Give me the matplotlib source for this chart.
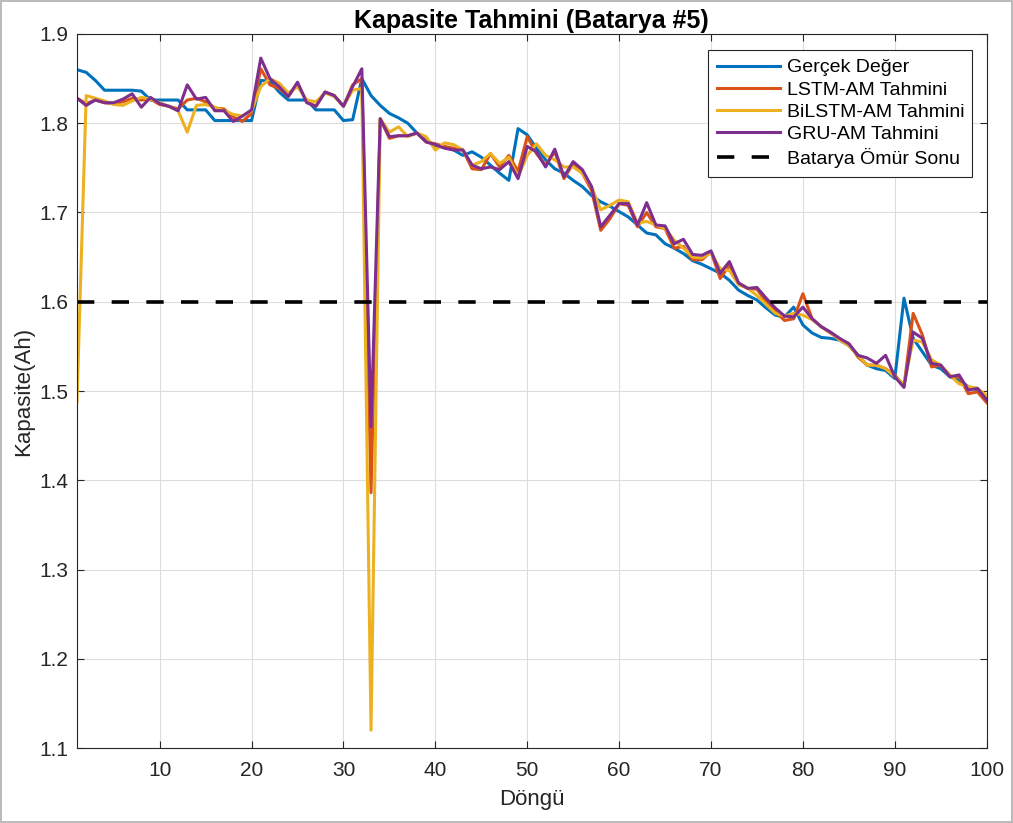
import matplotlib
matplotlib.use("Agg")
import matplotlib.pyplot as plt
import numpy as np

plt.rcParams['font.family'] = ['Liberation Sans', 'DejaVu Sans']

cycles = list(range(1, 101))

gercek = [1.860, 1.857, 1.848, 1.837, 1.837, 1.837, 1.837, 1.836, 1.826, 1.826,
          1.826, 1.826, 1.815, 1.815, 1.815, 1.803, 1.803, 1.803, 1.803, 1.803,
          1.848, 1.847, 1.835, 1.826, 1.826, 1.826, 1.815, 1.815, 1.815, 1.803,
          1.804, 1.850, 1.831, 1.820, 1.811, 1.806, 1.800, 1.789, 1.781, 1.775,
          1.773, 1.770, 1.764, 1.768, 1.762, 1.753, 1.744, 1.736, 1.794, 1.787,
          1.772, 1.759, 1.749, 1.744, 1.736, 1.729, 1.719, 1.712, 1.707, 1.701,
          1.695, 1.686, 1.677, 1.675, 1.665, 1.660, 1.654, 1.646, 1.642, 1.637,
          1.632, 1.624, 1.613, 1.607, 1.602, 1.593, 1.585, 1.583, 1.594, 1.574,
          1.565, 1.560, 1.559, 1.557, 1.551, 1.540, 1.529, 1.525, 1.523, 1.514,
          1.604, 1.559, 1.544, 1.529, 1.525, 1.516, 1.512, 1.505, 1.501, 1.492]

lstm = [1.828, 1.822, 1.826, 1.823, 1.822, 1.824, 1.828, 1.826, 1.827, 1.821,
        1.819, 1.816, 1.826, 1.828, 1.824, 1.817, 1.816, 1.807, 1.802, 1.811,
        1.861, 1.843, 1.839, 1.830, 1.845, 1.824, 1.819, 1.835, 1.831, 1.819,
        1.843, 1.850, 1.386, 1.805, 1.783, 1.786, 1.786, 1.789, 1.779, 1.777,
        1.774, 1.772, 1.770, 1.749, 1.748, 1.766, 1.751, 1.764, 1.746, 1.785,
        1.766, 1.753, 1.768, 1.738, 1.755, 1.744, 1.725, 1.680, 1.693, 1.710,
        1.708, 1.684, 1.700, 1.684, 1.682, 1.660, 1.662, 1.647, 1.647, 1.656,
        1.626, 1.641, 1.621, 1.615, 1.614, 1.600, 1.589, 1.579, 1.581, 1.609,
        1.581, 1.572, 1.565, 1.558, 1.553, 1.538, 1.529, 1.529, 1.525, 1.518,
        1.505, 1.587, 1.563, 1.527, 1.529, 1.516, 1.516, 1.497, 1.499, 1.487]

bilstm = [1.488, 1.831, 1.828, 1.825, 1.821, 1.820, 1.825, 1.829, 1.827, 1.823,
          1.819, 1.814, 1.790, 1.820, 1.821, 1.818, 1.814, 1.810, 1.808, 1.814,
          1.841, 1.850, 1.845, 1.834, 1.841, 1.826, 1.824, 1.834, 1.830, 1.819,
          1.837, 1.839, 1.120, 1.805, 1.790, 1.796, 1.785, 1.789, 1.785, 1.770,
          1.778, 1.776, 1.770, 1.753, 1.757, 1.766, 1.755, 1.762, 1.740, 1.764,
          1.777, 1.764, 1.759, 1.751, 1.751, 1.744, 1.729, 1.703, 1.708, 1.714,
          1.712, 1.688, 1.690, 1.686, 1.682, 1.669, 1.660, 1.650, 1.649, 1.655,
          1.637, 1.635, 1.619, 1.615, 1.607, 1.597, 1.587, 1.584, 1.587, 1.585,
          1.580, 1.572, 1.566, 1.557, 1.551, 1.540, 1.529, 1.529, 1.525, 1.516,
          1.508, 1.557, 1.555, 1.535, 1.529, 1.518, 1.508, 1.505, 1.503, 1.495]

gru = [1.828, 1.820, 1.826, 1.823, 1.823, 1.827, 1.833, 1.818, 1.829, 1.822,
       1.819, 1.814, 1.843, 1.827, 1.829, 1.814, 1.814, 1.802, 1.808, 1.815,
       1.873, 1.850, 1.841, 1.830, 1.846, 1.823, 1.819, 1.835, 1.831, 1.819,
       1.841, 1.861, 1.460, 1.805, 1.785, 1.786, 1.786, 1.789, 1.779, 1.776,
       1.772, 1.770, 1.770, 1.753, 1.749, 1.751, 1.748, 1.757, 1.738, 1.774,
       1.768, 1.751, 1.771, 1.740, 1.757, 1.748, 1.729, 1.684, 1.697, 1.710,
       1.710, 1.686, 1.711, 1.686, 1.685, 1.665, 1.670, 1.653, 1.652, 1.657,
       1.632, 1.645, 1.621, 1.615, 1.616, 1.604, 1.593, 1.584, 1.583, 1.594,
       1.581, 1.572, 1.566, 1.559, 1.553, 1.540, 1.537, 1.531, 1.540, 1.516,
       1.504, 1.566, 1.559, 1.531, 1.529, 1.516, 1.518, 1.501, 1.503, 1.490]

eol_value = 1.6
series_labels = ['Gerçek Değer', 'LSTM-AM Tahmini', 'BiLSTM-AM Tahmini', 'GRU-AM Tahmini']
eol_label = 'Batarya Ömür Sonu'
title = 'Kapasite Tahmini (Batarya #5)'
xlabel = 'Döngü'
ylabel = 'Kapasite(Ah)'
xticks = [10, 20, 30, 40, 50, 60, 70, 80, 90, 100]
yticks = [1.1, 1.2, 1.3, 1.4, 1.5, 1.6, 1.7, 1.8, 1.9]

colors = ['#0072BD', '#D95319', '#EDB120', '#7E2F8E']

fig = plt.figure(figsize=(10.13, 8.23), dpi=100)
fig.patch.set_edgecolor('#bbbbbb')
fig.patch.set_linewidth(1.5)
ax = fig.add_axes([0.076, 0.0911, 0.898, 0.8676])

for data, lab, c in zip([gercek, lstm, bilstm, gru], series_labels, colors):
    ax.plot(cycles, data, color=c, lw=2.2, label=lab)
ax.plot([cycles[0], cycles[-1]], [eol_value, eol_value], color='black', lw=2.6,
        linestyle=(0, (4.8, 4.8)), label=eol_label)

ax.set_xlim(1, 100)
ax.set_ylim(1.1, 1.9)
ax.set_xticks(xticks)
ax.set_yticks(yticks)
ax.set_yticklabels([f'{v:.1f}' for v in yticks])
ax.tick_params(direction='in', top=True, right=True, labelsize=15, length=5,
               width=0.8, colors='#262626')
ax.tick_params(axis='x', pad=9)
ax.tick_params(axis='y', pad=6)
ax.grid(True, color='#dcdcdc', lw=0.8)
ax.set_axisbelow(True)
for s in ax.spines.values():
    s.set_color('#262626')
    s.set_linewidth(0.8)

ax.set_title(title, fontsize=18, fontweight='bold', pad=4)
ax.set_xlabel(xlabel, fontsize=16, color='#262626', labelpad=7)
ax.set_ylabel(ylabel, fontsize=16, color='#262626', labelpad=4)

leg = ax.legend(loc='upper right', bbox_to_anchor=(0.6934, 0.5, 0.2901, 0.4776),
                mode='expand', borderaxespad=0, fontsize=14,
                frameon=True, fancybox=False, edgecolor='#262626', framealpha=1,
                handlelength=3.25, borderpad=0.45, labelspacing=0.24, handletextpad=0.36)
leg.get_frame().set_linewidth(0.8)

fig.savefig('out.png', dpi=100)
